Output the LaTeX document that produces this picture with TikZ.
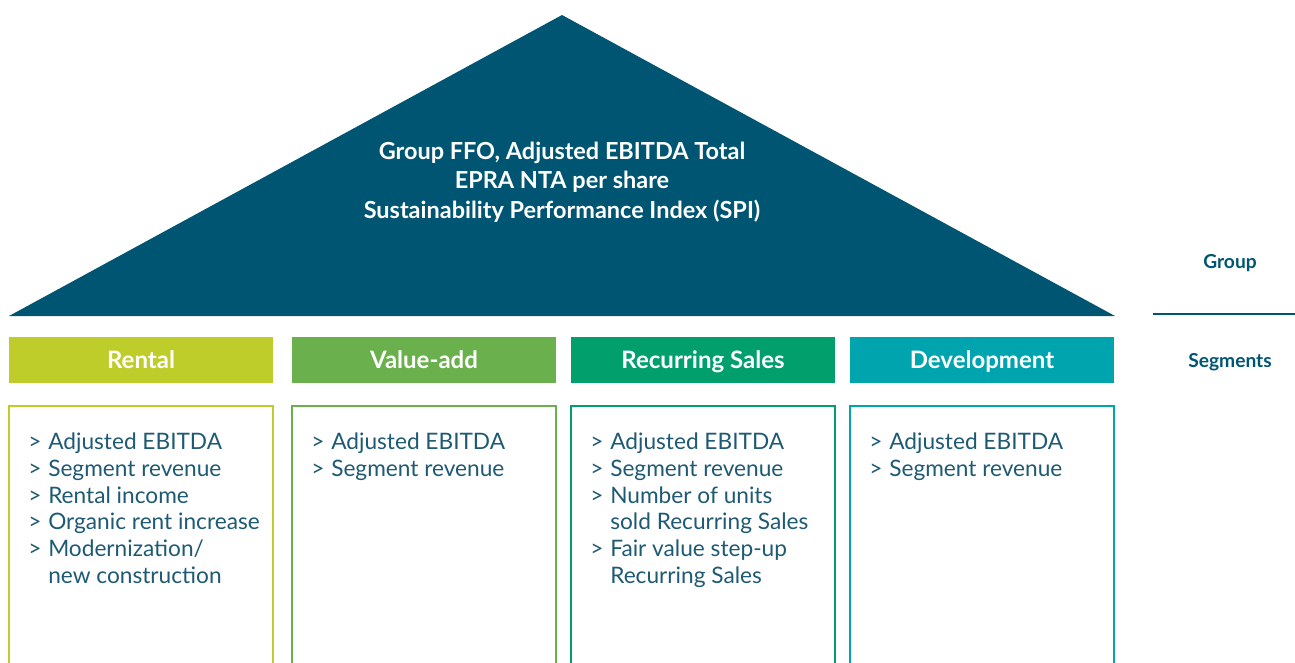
\documentclass[tikz,border=0pt]{standalone}
\usepackage{fontspec}
\setmainfont{Lato}
\definecolor{groupc}{RGB}{0,86,114}
\definecolor{rentalc}{RGB}{190,205,42}
\definecolor{valuec}{RGB}{106,176,76}
\definecolor{salesc}{RGB}{0,159,107}
\definecolor{devc}{RGB}{0,164,174}
\definecolor{txtc}{RGB}{30,90,115}
\newcommand{\kpi}[1]{\makebox[15pt][l]{>}#1}
\newcommand{\kpimore}[1]{\hspace*{15pt}#1}
\tikzset{
  seghead/.style={fill=#1, text=white, font=\fontsize{18}{20}\selectfont\bfseries,
    minimum width=198pt, minimum height=34.5pt, inner sep=0pt,
    text height=12.9pt, text depth=0pt},
  segbody/.style={draw=#1, line width=1.5pt},
  kpilist/.style={anchor=north west, text=txtc, align=left,
    font=\fontsize{17}{20}\selectfont, inner sep=0pt},
  sidelabel/.style={text=groupc, font=\fontsize{14.4}{16}\selectfont\bfseries}
}
\begin{document}
\begin{tikzpicture}[x=0.75pt,y=-0.75pt]
	\useasboundingbox (0,0) rectangle (1295,662);
	% roof
	\coordinate (roofl) at (9,316);
	\coordinate (roofr) at (1115,316);
	\coordinate (apex) at (562,15);
	\fill[groupc] (roofl) -- (apex) -- (roofr) -- cycle;
	\node (grouptxt) at (562,182) [text=white, align=center, font=\fontsize{17.6}{22}\selectfont\bfseries]
		{Group FFO, Adjusted EBITDA Total\\EPRA NTA per share\\Sustainability Performance Index (SPI)};
	% segment headers
	\node (rental) at (141,360) [seghead=rentalc] {Rental};
	\node (valueadd) at (424,360) [seghead=valuec] {Value-add};
	\node (sales) at (703,360) [seghead=salesc] {Recurring Sales};
	\node (dev) at (982,360) [seghead=devc] {Development};
	% segment bodies
	\draw[segbody=rentalc] (9,670) -- (9,406) -- (273,406) -- (273,670);
	\draw[segbody=valuec] (292,670) -- (292,406) -- (556,406) -- (556,670);
	\draw[segbody=salesc] (571,670) -- (571,406) -- (835,406) -- (835,670);
	\draw[segbody=devc] (850,670) -- (850,406) -- (1114,406) -- (1114,670);
	\node (rentalkpi) at (28,433) [kpilist]
		{\kpi{Adjusted EBITDA}\\\kpi{Segment revenue}\\\kpi{Rental income}\\\kpi{Organic rent increase}\\\kpi{Modernization/}\\\kpimore{new construction}};
	\node (valuekpi) at (311,433) [kpilist]
		{\kpi{Adjusted EBITDA}\\\kpi{Segment revenue}};
	\node (saleskpi) at (590,433) [kpilist]
		{\kpi{Adjusted EBITDA}\\\kpi{Segment revenue}\\\kpi{Number of units}\\\kpimore{sold Recurring Sales}\\\kpi{Fair value step-up}\\\kpimore{Recurring Sales}};
	\node (devkpi) at (869,433) [kpilist]
		{\kpi{Adjusted EBITDA}\\\kpi{Segment revenue}};
	% side labels
	\node (grouplbl) at (1230,263) [sidelabel] {Group};
	\node (seglbl) at (1230,362) [sidelabel] {Segments};
	\coordinate (sepl) at (1153,314);
	\coordinate (sepr) at (1295,314);
	\draw[groupc, line width=1.5pt] (sepl) -- (sepr);
\end{tikzpicture}
\end{document}
